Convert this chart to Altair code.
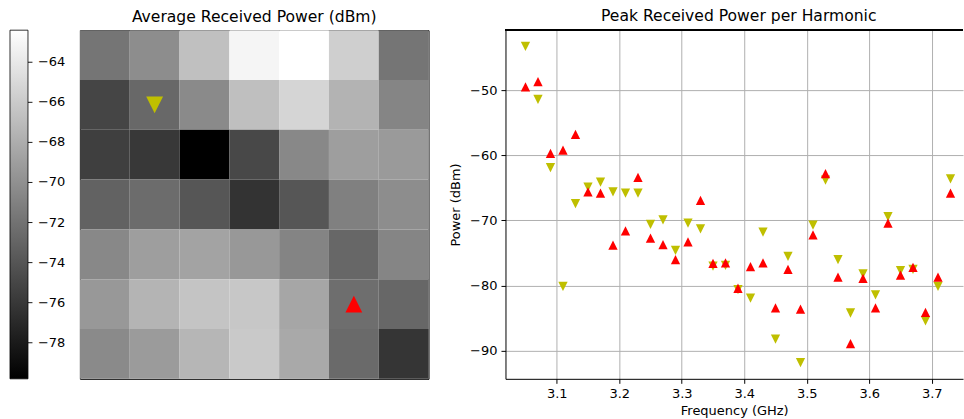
import altair as alt
import pandas as pd

# ---------------- data ----------------
# Average received power (dBm), rows top -> bottom, columns left -> right
avg_power = [
    [-71.8, -70.2, -66.7, -63.1, -62.4, -65.7, -71.8],
    [-75.1, -72.7, -70.4, -66.8, -65.3, -67.6, -70.7],
    [-75.5, -76.0, -79.8, -74.9, -70.5, -69.0, -69.3],
    [-73.1, -72.4, -73.9, -76.3, -73.9, -71.1, -70.2],
    [-70.5, -69.0, -68.7, -69.4, -70.8, -72.8, -70.7],
    [-69.4, -67.5, -66.4, -66.2, -68.5, -72.3, -72.8],
    [-70.4, -69.2, -67.4, -66.1, -68.3, -72.6, -76.2],
]
colorbar_ticks = [-64, -66, -68, -70, -72, -74, -76, -78]

# marker cells on the heatmap
yellow_cell_col = [1]
yellow_cell_row = [1]
red_cell_col = [5]
red_cell_row = [5]

freqs = [3.05, 3.07, 3.09, 3.11, 3.13, 3.15, 3.17, 3.19, 3.21, 3.23, 3.25, 3.27,
         3.29, 3.31, 3.33, 3.35, 3.37, 3.39, 3.41, 3.43, 3.45, 3.47, 3.49, 3.51,
         3.53, 3.55, 3.57, 3.59, 3.61, 3.63, 3.65, 3.67, 3.69, 3.71, 3.73]
red_peak = [-49.5, -48.7, -59.7, -59.2, -56.8, -65.6, -65.8, -73.8, -71.6, -63.4,
            -72.7, -73.7, -76.0, -73.3, -66.9, -76.6, -76.5, -80.4, -77.1, -76.5,
            -83.4, -77.5, -83.6, -72.2, -62.8, -78.7, -88.9, -78.9, -83.4, -70.4,
            -78.4, -77.2, -84.1, -78.7, -65.8]
yellow_peak = [-43.3, -51.4, -61.9, -80.1, -67.4, -64.9, -64.1, -65.6, -65.8, -65.8,
               -70.6, -69.9, -74.6, -70.4, -71.3, -77.0, -76.9, -80.6, -81.9, -71.8,
               -88.2, -75.5, -91.8, -70.7, -63.8, -76.0, -84.2, -78.2, -81.4, -69.4,
               -77.7, -77.5, -85.4, -80.1, -63.6]
x_ticks = [3.1, 3.2, 3.3, 3.4, 3.5, 3.6, 3.7]
y_ticks = [-50, -60, -70, -80, -90]

# ---------------- styling ----------------
FONT = "DejaVu Sans"
YELLOW = "#bfbf00"
RED = "#ff0000"
TRI_UP = "M0,-1L-1,1L1,1Z"
TRI_DOWN = "M0,1L-1,-1L1,-1Z"

HEAT_W, HEAT_H = 349, 349
SC_W, SC_H = 458, 349
CB_DOMAIN = [-79.8, -62.4]

# ---------------- heatmap ----------------
heat_df = pd.DataFrame([
    {"row": r, "col": c, "value": avg_power[r][c]}
    for r in range(len(avg_power)) for c in range(len(avg_power[r]))
])
yellow_cell_df = pd.DataFrame({"row": yellow_cell_row, "col": yellow_cell_col})
red_cell_df = pd.DataFrame({"row": red_cell_row, "col": red_cell_col})
cb_tick_df = pd.DataFrame({"v": colorbar_ticks})

band = alt.Scale(paddingInner=0, paddingOuter=0)
hx = alt.X("col:O", axis=None, scale=band)
hy = alt.Y("row:O", axis=None, scale=band)
gray = alt.Scale(domain=CB_DOMAIN, range=["black", "white"], interpolate="rgb")

heat = alt.Chart(heat_df).mark_rect().encode(
    x=hx, y=hy,
    color=alt.Color("value:Q", scale=gray, legend=alt.Legend(
        type="gradient",
        orient="none", legendX=-70, legendY=0, direction="vertical",
        gradientLength=HEAT_H, gradientThickness=18, title=None,
        values=colorbar_ticks, labelOverlap=False, labelOffset=10, padding=0,
        labelFontSize=13, labelFont=FONT, labelColor="black",
        gradientStrokeColor="black", gradientStrokeWidth=0.8)),
)
yellow_cell = alt.Chart(yellow_cell_df).mark_point(
    shape=TRI_DOWN, filled=True, size=285, color=YELLOW, opacity=1).encode(x=hx, y=hy)
red_cell = alt.Chart(red_cell_df).mark_point(
    shape=TRI_UP, filled=True, size=285, color=RED, opacity=1).encode(x=hx, y=hy)

heat_layers = alt.layer(heat, yellow_cell, red_cell)

# colorbar tick marks at the right edge of the colour gradient
cb_ticks = alt.Chart(cb_tick_df).mark_rule(color="black", strokeWidth=0.9).encode(
    y=alt.Y("v:Q", scale=alt.Scale(domain=CB_DOMAIN, nice=False, zero=False),
            axis=None),
    x=alt.value(-52), x2=alt.value(-47.5))

left = alt.layer(heat_layers, cb_ticks).resolve_scale(
    y="independent"
).properties(
    width=HEAT_W, height=HEAT_H,
    title=alt.TitleParams("Average Received Power (dBm)", fontSize=15.6,
                          fontWeight="normal", font=FONT, color="black",
                          anchor="middle", frame="group", offset=5),
    view=alt.ViewBackground(stroke="black", strokeWidth=1, strokeOpacity=1),
)

# ---------------- scatter ----------------
sc_df = pd.DataFrame({"freq": freqs, "red": red_peak, "yellow": yellow_peak})
xsc = alt.Scale(domain=[3.018, 3.750], nice=False, zero=False)
ysc = alt.Scale(domain=[-94.3, -40.8], nice=False, zero=False)
xax = alt.Axis(values=x_ticks, format=".1f", title="Frequency (GHz)", grid=True,
               labelPadding=4, titlePadding=4)
yax = alt.Axis(values=y_ticks, title="Power (dBm)", grid=True,
               labelPadding=4, titlePadding=7)

yellow_pts = alt.Chart(sc_df).mark_point(
    shape=TRI_DOWN, filled=True, size=86, color=YELLOW, opacity=1).encode(
    x=alt.X("freq:Q", scale=xsc, axis=xax),
    y=alt.Y("yellow:Q", scale=ysc, axis=yax))
red_pts = alt.Chart(sc_df).mark_point(
    shape=TRI_UP, filled=True, size=86, color=RED, opacity=1).encode(
    x=alt.X("freq:Q", scale=xsc, axis=xax),
    y=alt.Y("red:Q", scale=ysc, axis=yax))
top_line = alt.Chart(sc_df).mark_rule(color="black", strokeWidth=1).encode(
    x=alt.value(0), x2=alt.value(SC_W), y=alt.value(0))

right = alt.layer(yellow_pts, red_pts, top_line).properties(
    width=SC_W, height=SC_H,
    title=alt.TitleParams("Peak Received Power per Harmonic", fontSize=15.6,
                          fontWeight="normal", font=FONT, color="black",
                          anchor="middle", frame="group", offset=5, dx=4.5),
)

chart = alt.hconcat(left, right, spacing=77, bounds="flush").properties(
    padding={"left": 10, "top": 8, "right": 0, "bottom": 0},
    background="white",
).configure_view(strokeOpacity=0).configure_axis(
    labelFont=FONT, titleFont=FONT, labelFontSize=13, titleFontSize=13,
    labelColor="black", titleColor="black", titleFontWeight="normal",
    domainColor="black", domainWidth=1, tickColor="black", tickSize=4.5,
    gridColor="#b0b0b0", gridWidth=1,
)

chart.save("out.html", embed_options={"renderer": "svg", "actions": False})
